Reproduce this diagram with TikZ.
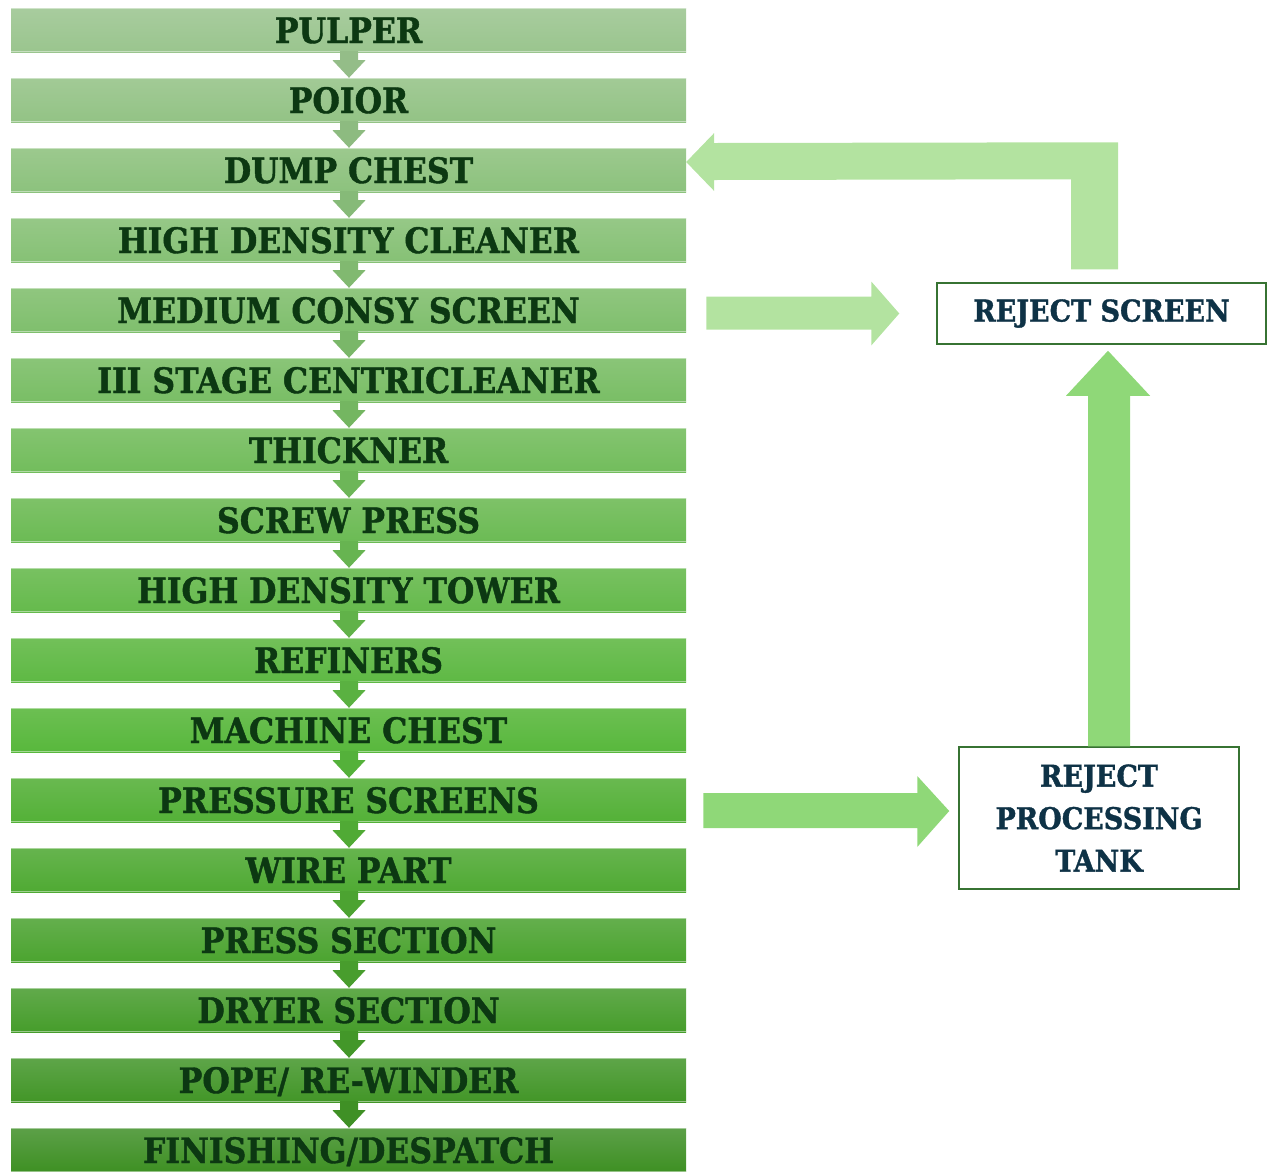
\documentclass[tikz,border=0pt]{standalone}
\usepackage{fontspec}
\usetikzlibrary{calc}
\newfontfamily\slab{DejaVu Serif Condensed}[BoldFont={* Bold},BoldFeatures={FakeBold=1.2}]
\definecolor{bartext}{RGB}{12,56,18}
\definecolor{navytext}{RGB}{14,50,70}
\definecolor{boxline}{RGB}{55,115,50}
\definecolor{arrowlight}{RGB}{179,227,160}
\definecolor{arrowmid}{RGB}{143,216,120}
\newcommand\barcols[1]{%
 \pgfmathsetmacro\bcTa{min(#1,10)/10}%
 \pgfmathsetmacro\bcTb{max(#1-10,0)/6}%
 \pgfmathtruncatemacro\bcRa{168-60*\bcTa-16*\bcTb}%
 \pgfmathtruncatemacro\bcGa{204-13*\bcTa-31*\bcTb}%
 \pgfmathtruncatemacro\bcBa{158-76*\bcTa-10*\bcTb}%
 \pgfmathtruncatemacro\bcRb{154-66*\bcTa-26*\bcTb}%
 \pgfmathtruncatemacro\bcGb{197-13*\bcTa-40*\bcTb}%
 \pgfmathtruncatemacro\bcBb{142-82*\bcTa-25*\bcTb}%
 \definecolor{topc}{RGB}{\bcRa,\bcGa,\bcBa}%
 \definecolor{botc}{RGB}{\bcRb,\bcGb,\bcBb}%
}
\begin{document}
\begin{tikzpicture}[x=1pt,y=1pt,
  bar/.style={minimum width=675pt, minimum height=44pt, inner sep=0pt,
    text height=26pt, text depth=0pt,
    font=\slab\bfseries\fontsize{35}{40}\selectfont, text=bartext},
  rbox/.style={draw=boxline, line width=1.5pt, fill=white, inner sep=0pt,
    font=\slab\bfseries\fontsize{30}{42.5}\selectfont, text=navytext, align=center},
  lightarrow/.style={fill=arrowlight},
  midarrow/.style={fill=arrowmid}]
\useasboundingbox (0,0) rectangle (1267,-1171);

% process bars
\foreach \lab [count=\n from 0] in {PULPER,POIOR,DUMP CHEST,HIGH DENSITY CLEANER,MEDIUM CONSY SCREEN,III STAGE CENTRICLEANER,THICKNER,SCREW PRESS,HIGH DENSITY TOWER,REFINERS,MACHINE CHEST,PRESSURE SCREENS,WIRE PART,PRESS SECTION,DRYER SECTION,POPE/ RE-WINDER,FINISHING/DESPATCH} {
  \barcols{\n}
  \node[bar, top color=topc, bottom color=botc] (b\n) at (348.5,{-(30+70*\n)}) {\lab};
  \draw[white, opacity=.45, line width=.8pt] ([yshift=-.4pt]b\n.north west) -- ([yshift=-.4pt]b\n.north east);
  \draw[white, opacity=.45, line width=.8pt] ([yshift=.4pt]b\n.south west) -- ([yshift=.4pt]b\n.south east);
}

% small arrows between bars
\foreach \n [evaluate=\n as \m using int(\n+1)] in {0,...,15} {
  \barcols{\n}
  \fill[botc!96!black]
    ([xshift=-8.5pt,yshift=1pt]b\n.south) -- ([xshift=-8.5pt,yshift=-8pt]b\n.south)
    -- ([xshift=-16pt,yshift=-8pt]b\n.south) -- ([xshift=.5pt]b\m.north)
    -- ([xshift=17pt,yshift=-8pt]b\n.south) -- ([xshift=9.5pt,yshift=-8pt]b\n.south)
    -- ([xshift=9.5pt,yshift=1pt]b\n.south) -- cycle;
}

% reject boxes
\node[rbox, minimum width=329pt, minimum height=61pt] (rs) at (1101.5,-313.5) {REJECT SCREEN};
\node[rbox, minimum width=280pt, minimum height=142pt] (rpt) at (1099,-818) {REJECT\\PROCESSING\\TANK};

% return arrow to dump chest
\coordinate (rt) at ([yshift=8pt]b2.east);
\fill[lightarrow] (rt) -- ($(rt)+(28,29)$) -- ($(rt)+(28,19)$)
  -- ($(rs.north)+(16.5,140)$) -- ($(rs.north)+(16.5,13)$)
  -- ($(rs.north)+(-30.5,13)$) -- ($(rs.north)+(-30.5,103)$)
  -- ($(rt)+(28,-18)$) -- ($(rt)+(28,-29)$) -- cycle;

% medium consy screen -> reject screen
\coordinate (mt) at ([xshift=-37pt]rs.west);
\fill[lightarrow] (mt) -- ($(mt)+(-28,32)$) -- ($(mt)+(-28,17)$)
  -- ($(mt)+(-193,17)$) -- ($(mt)+(-193,-16)$) -- ($(mt)+(-28,-16)$)
  -- ($(mt)+(-28,-32)$) -- cycle;

% reject processing tank -> reject screen
\coordinate (ut) at ([shift={(6.5,-6)}]rs.south);
\fill[midarrow] (ut) -- ($(ut)+(42,-45)$) -- ($(ut)+(22,-45)$)
  -- ($(rpt.north)+(31,0)$) -- ($(rpt.north)+(-11,0)$)
  -- ($(ut)+(-20,-45)$) -- ($(ut)+(-42,-45)$) -- cycle;

% pressure screens -> reject processing tank
\coordinate (pt) at ([shift={(-9,7)}]rpt.west);
\fill[midarrow] (pt) -- ($(pt)+(-32,35)$) -- ($(pt)+(-32,18)$)
  -- ($(pt)+(-246,18)$) -- ($(pt)+(-246,-17)$) -- ($(pt)+(-32,-17)$)
  -- ($(pt)+(-32,-36)$) -- cycle;
\end{tikzpicture}
\end{document}
